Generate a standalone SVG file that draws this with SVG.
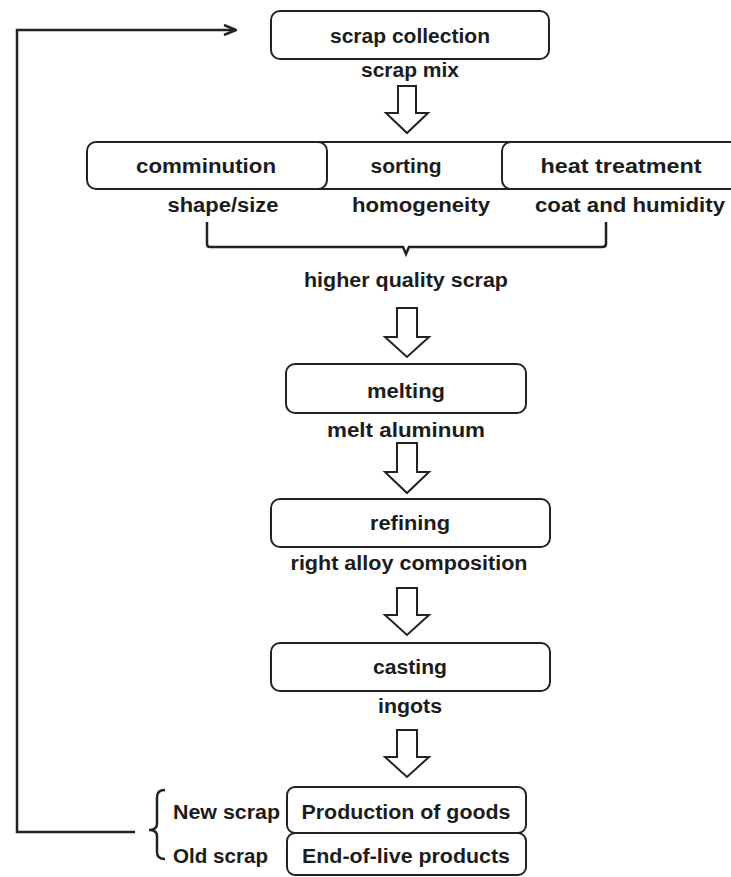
<svg xmlns="http://www.w3.org/2000/svg" width="731" height="877" viewBox="0 0 731 877">
<defs>
<style>
.box{fill:#fff;stroke:#222;stroke-width:2}
.ln{fill:none;stroke:#222;stroke-width:2.5}
.bar{fill:#fff;stroke:#222;stroke-width:2;stroke-linejoin:miter}
text{font-family:"Liberation Sans",Arial,sans-serif;font-weight:bold;font-size:20px;fill:#1c1c1c;text-anchor:middle}
.l{text-anchor:start}
</style>
<marker id="ah" markerWidth="14" markerHeight="12" refX="13" refY="6" orient="auto" markerUnits="userSpaceOnUse">
<path d="M1,1 L13,6 L1,11" fill="none" stroke="#222" stroke-width="2.5"/>
</marker>
</defs>
<rect width="731" height="877" fill="#fff"/>

<g id="connectors">
<path class="ln" d="M135,832 H17 V30 H236" marker-end="url(#ah)"/>
<path class="ln" d="M207,222 V244 Q207,247 210,247 H403 L406,254 L409,247 H602 Q606,247 606,244 V222" stroke-width="2"/>
<path class="ln" d="M165,790 Q157,790 157,797 V824 Q157,830 149,830 Q157,830 157,836 V852 Q157,859 165,859" stroke-width="2.5"/>
<path class="bar" d="M398,86 H416 V113 H428 L407,133 L386,113 H398 Z"/>
<path class="bar" d="M397,308 H417 V337 H429 L407,357 L385,337 H397 Z"/>
<path class="bar" d="M397,443 H417 V472 H429 L407,493 L385,472 H397 Z"/>
<path class="bar" d="M397,588 H417 V615 H429 L407,635 L385,615 H397 Z"/>
<path class="bar" d="M397,730 H417 V757 H429 L407,777 L385,757 H397 Z"/>
</g>

<g id="scrap-collection">
<rect class="box" x="271" y="11" width="278" height="48" rx="9"/>
<text x="410" y="43" textLength="160" lengthAdjust="spacingAndGlyphs">scrap collection</text>
<text x="410" y="77" textLength="98" lengthAdjust="spacingAndGlyphs">scrap mix</text>
</g>

<g id="comminution">
<rect class="box" x="87" y="142" width="240" height="47" rx="9"/>
<text x="206" y="173" textLength="140" lengthAdjust="spacingAndGlyphs">comminution</text>
<text x="223" y="212" textLength="111" lengthAdjust="spacingAndGlyphs">shape/size</text>
</g>
<g id="heat-treatment">
<rect class="box" x="502" y="142" width="245" height="47" rx="9"/>
<text x="621" y="173" textLength="161" lengthAdjust="spacingAndGlyphs">heat treatment</text>
<text x="630" y="212" textLength="190" lengthAdjust="spacingAndGlyphs">coat and humidity</text>
</g>
<g id="sorting">
<path d="M316,142 H513 M316,189 H513" fill="none" stroke="#222" stroke-width="2"/>
<text x="406" y="173" textLength="71" lengthAdjust="spacingAndGlyphs">sorting</text>
<text x="421" y="212" textLength="138" lengthAdjust="spacingAndGlyphs">homogeneity</text>
</g>
<g id="higher-quality">
<text x="406" y="287" textLength="204" lengthAdjust="spacingAndGlyphs">higher quality scrap</text>
</g>

<g id="melting">
<rect class="box" x="286" y="364" width="240" height="49" rx="9"/>
<text x="406" y="398" textLength="78" lengthAdjust="spacingAndGlyphs">melting</text>
<text x="406" y="437" textLength="158" lengthAdjust="spacingAndGlyphs">melt aluminum</text>
</g>

<g id="refining">
<rect class="box" x="271" y="499" width="279" height="48" rx="9"/>
<text x="410" y="530" textLength="80" lengthAdjust="spacingAndGlyphs">refining</text>
<text x="409" y="570" textLength="237" lengthAdjust="spacingAndGlyphs">right alloy composition</text>
</g>

<g id="casting">
<rect class="box" x="271" y="643" width="279" height="48" rx="9"/>
<text x="410" y="674" textLength="74" lengthAdjust="spacingAndGlyphs">casting</text>
<text x="410" y="713" textLength="64" lengthAdjust="spacingAndGlyphs">ingots</text>
</g>

<g id="production">
<rect class="box" x="287" y="787" width="239" height="46" rx="8"/>
<text x="406" y="819" textLength="209" lengthAdjust="spacingAndGlyphs">Production of goods</text>
<text class="l" x="173" y="819" textLength="107" lengthAdjust="spacingAndGlyphs">New scrap</text>
</g>
<g id="end-of-live">
<rect class="box" x="287" y="833" width="239" height="42" rx="8"/>
<text x="406" y="863" textLength="208" lengthAdjust="spacingAndGlyphs">End-of-live products</text>
<text class="l" x="173" y="863" textLength="95" lengthAdjust="spacingAndGlyphs">Old scrap</text>
</g>
</svg>
